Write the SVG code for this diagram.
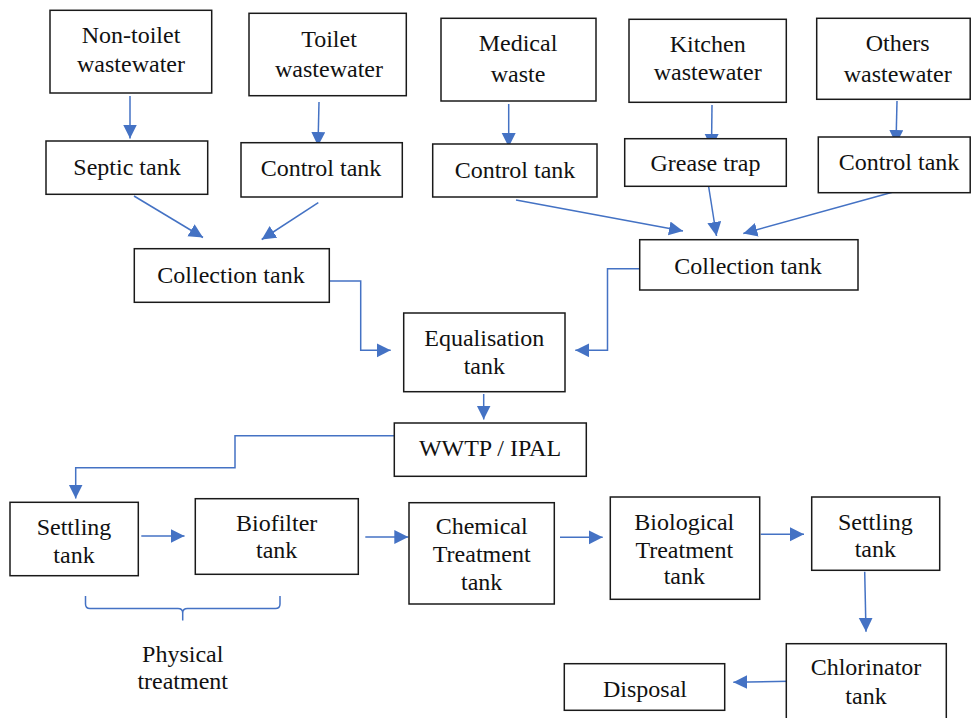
<svg xmlns="http://www.w3.org/2000/svg" width="971" height="718" viewBox="0 0 971 718">
<style>
.box{fill:#fff;stroke:#1a1a1a;stroke-width:1.5}
.t{font-family:"Liberation Serif","Times New Roman",serif;font-size:24px;fill:#111;text-anchor:middle}
.c{fill:none;stroke:#4472C4;stroke-width:1.5}
</style>
<defs>
<marker id="ah" markerUnits="userSpaceOnUse" markerWidth="15" markerHeight="15" refX="14" refY="7" orient="auto">
<path d="M0,0 L14,7 L0,14 z" fill="#4472C4"/>
</marker>
</defs>
<rect width="971" height="718" fill="#fff"/>

<g id="connectors">
<line class="c" x1="130" y1="96" x2="130" y2="138.5" marker-end="url(#ah)"/>
<line class="c" x1="319" y1="102" x2="318" y2="146" marker-end="url(#ah)"/>
<line class="c" x1="508.7" y1="104" x2="508.7" y2="147" marker-end="url(#ah)"/>
<line class="c" x1="712" y1="105" x2="711.5" y2="148" marker-end="url(#ah)"/>
<line class="c" x1="897" y1="101" x2="896" y2="144" marker-end="url(#ah)"/>
<line class="c" x1="134" y1="196" x2="203" y2="237.5" marker-end="url(#ah)"/>
<line class="c" x1="318.3" y1="202.7" x2="261.7" y2="239.5" marker-end="url(#ah)"/>
<line class="c" x1="516" y1="200" x2="683" y2="231" marker-end="url(#ah)"/>
<line class="c" x1="708.7" y1="187" x2="716.5" y2="236" marker-end="url(#ah)"/>
<line class="c" x1="892.3" y1="192.3" x2="743.3" y2="233.5" marker-end="url(#ah)"/>
<polyline class="c" points="329.3,281 360.7,281 360.7,350.3 390.7,350.3" marker-end="url(#ah)"/>
<polyline class="c" points="639.7,268.7 607.5,268.7 607.5,350.3 575.3,350.3" marker-end="url(#ah)"/>
<line class="c" x1="483.7" y1="394" x2="483.7" y2="419.5" marker-end="url(#ah)"/>
<polyline class="c" points="394.3,435.7 235,435.7 235,467.7 75.7,467.7 75.7,498.5" marker-end="url(#ah)"/>
<line class="c" x1="141.3" y1="536" x2="184.5" y2="536" marker-end="url(#ah)"/>
<line class="c" x1="365.3" y1="537" x2="408.3" y2="537" marker-end="url(#ah)"/>
<line class="c" x1="560" y1="537.3" x2="602.7" y2="537.3" marker-end="url(#ah)"/>
<line class="c" x1="760.7" y1="534.3" x2="804" y2="534.3" marker-end="url(#ah)"/>
<line class="c" x1="864.7" y1="571.7" x2="866" y2="631.7" marker-end="url(#ah)"/>
<line class="c" x1="790" y1="681.3" x2="733.3" y2="682.3" marker-end="url(#ah)"/>
</g>

<g id="non-toilet"><rect class="box" x="50" y="10.3" width="161.7" height="82.7"/><text class="t" x="131" y="43.3">Non-toilet</text><text class="t" x="131" y="71.7">wastewater</text></g>
<g id="toilet"><rect class="box" x="249" y="13.3" width="157.3" height="82.4"/><text class="t" x="329" y="46.7">Toilet</text><text class="t" x="329" y="77.3">wastewater</text></g>
<g id="medical"><rect class="box" x="441" y="18.3" width="155" height="82.7"/><text class="t" x="518" y="50.7">Medical</text><text class="t" x="518" y="82">waste</text></g>
<g id="kitchen"><rect class="box" x="629" y="19.3" width="157.3" height="83"/><text class="t" x="707.7" y="51.5">Kitchen</text><text class="t" x="707.7" y="80">wastewater</text></g>
<g id="others"><rect class="box" x="816.7" y="18.3" width="153.5" height="81"/><text class="t" x="897.7" y="50.7">Others</text><text class="t" x="897.7" y="81.7">wastewater</text></g>

<g id="septic"><rect class="box" x="46" y="141" width="161.7" height="53.3"/><text class="t" x="127" y="175">Septic tank</text></g>
<g id="control1"><rect class="box" x="241" y="142.7" width="161.3" height="54.3"/><text class="t" x="321" y="176">Control tank</text></g>
<g id="control2"><rect class="box" x="432.7" y="144" width="164.3" height="53"/><text class="t" x="515" y="177.7">Control tank</text></g>
<g id="grease"><rect class="box" x="624.7" y="138.7" width="161.6" height="47.6"/><text class="t" x="705.5" y="170.5">Grease trap</text></g>
<g id="control3"><rect class="box" x="818.3" y="137" width="151.9" height="55.7"/><text class="t" x="899" y="170">Control tank</text></g>

<g id="collection1"><rect class="box" x="134.3" y="248.7" width="195" height="53.6"/><text class="t" x="231" y="283">Collection tank</text></g>
<g id="collection2"><rect class="box" x="639.7" y="239.7" width="218.3" height="50.3"/><text class="t" x="748" y="274">Collection tank</text></g>

<g id="equalisation"><rect class="box" x="403.7" y="313" width="161.3" height="78.7"/><text class="t" x="484.3" y="346">Equalisation</text><text class="t" x="484.3" y="374">tank</text></g>
<g id="wwtp"><rect class="box" x="394.3" y="423" width="192" height="53.3"/><text class="t" x="490" y="455.7">WWTP / IPAL</text></g>

<g id="settling1"><rect class="box" x="10" y="502.3" width="128.3" height="73.4"/><text class="t" x="74" y="535">Settling</text><text class="t" x="74" y="562.7">tank</text></g>
<g id="biofilter"><rect class="box" x="195.3" y="498.7" width="163" height="75.6"/><text class="t" x="276.7" y="530.7">Biofilter</text><text class="t" x="276.7" y="558">tank</text></g>
<g id="chemical"><rect class="box" x="409" y="502.7" width="145.3" height="101.3"/><text class="t" x="481.7" y="534.3">Chemical</text><text class="t" x="481.7" y="562.3">Treatment</text><text class="t" x="481.7" y="590">tank</text></g>
<g id="biological"><rect class="box" x="610.3" y="497" width="149.4" height="102.3"/><text class="t" x="684.3" y="530">Biological</text><text class="t" x="684.3" y="557.7">Treatment</text><text class="t" x="684.3" y="584.3">tank</text></g>
<g id="settling2"><rect class="box" x="811.7" y="497" width="128" height="73.3"/><text class="t" x="875.3" y="530">Settling</text><text class="t" x="875.3" y="556.7">tank</text></g>
<g id="chlorinator"><rect class="box" x="786.3" y="643.7" width="160" height="90"/><text class="t" x="866" y="675">Chlorinator</text><text class="t" x="866" y="704">tank</text></g>
<g id="disposal"><rect class="box" x="564.3" y="663.7" width="160.4" height="46.6"/><text class="t" x="645" y="696.7">Disposal</text></g>

<g id="physical-treatment">
<path class="c" d="M85.5,596 L85.5,604 Q85.5,608.5 90,608.5 L178,608.5 Q182.7,608.5 182.7,613 L182.7,620.5 M182.7,613 Q182.7,608.5 187.5,608.5 L275.5,608.5 Q280,608.5 280,604 L280,596"/>
<text class="t" x="182.7" y="661.7">Physical</text><text class="t" x="182.7" y="689.3">treatment</text>
</g>
</svg>
